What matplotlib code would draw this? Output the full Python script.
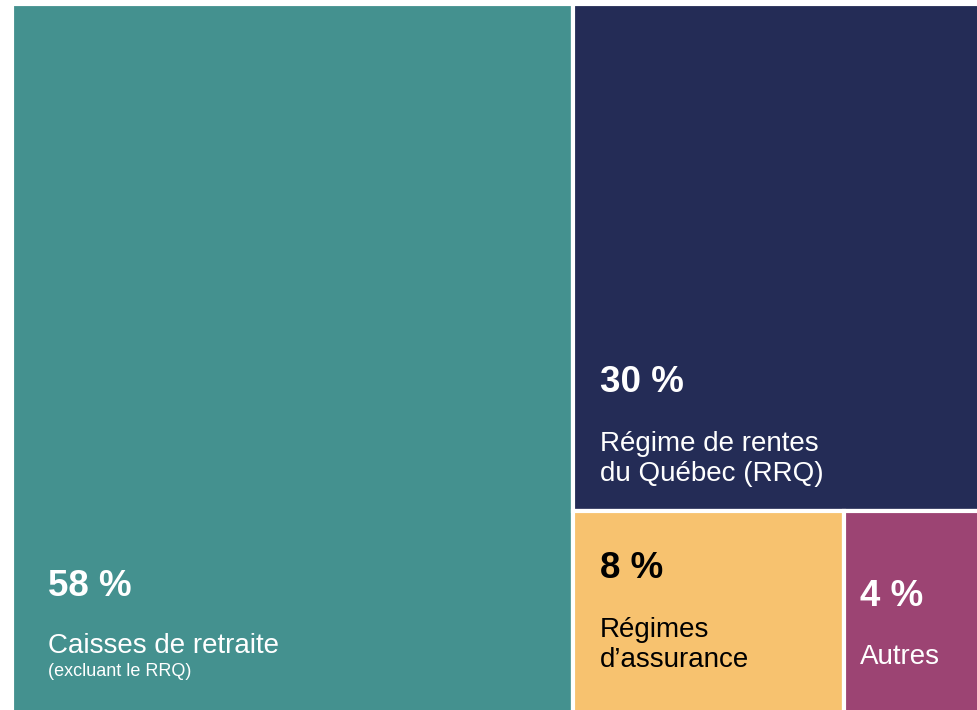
import matplotlib.pyplot as plt
from matplotlib.patches import Rectangle

plt.rcParams['font.family'] = ['Liberation Sans', 'DejaVu Sans']

# données
parts = [58, 30, 8, 4]
pct_labels = ['58 %', '30 %', '8 %', '4 %']
names = ['Caisses de retraite', 'Régime de rentes\ndu Québec (RRQ)', 'Régimes\nd\u2019assurance', 'Autres']
notes = ['(excluant le RRQ)', '', '', '']
colors = ['#44918f', '#242c56', '#f7c26f', '#9c4473']
pct_colors = ['white', 'white', 'black', 'white']
name_colors = ['white', 'white', 'black', 'white']

fig = plt.figure(figsize=(9.78, 7.1), dpi=100)
ax = fig.add_axes([0, 0, 1, 1])
ax.set_xlim(0, 978)
ax.set_ylim(710, 0)
ax.axis('off')

# zone du treemap (pixels)
x0, y0, x1, y1 = 12, 4, 980, 714
W, H = x1 - x0, y1 - y0
total = sum(parts)

# découpage : gros bloc à gauche, colonne à droite (haut + 2 petits en bas)
w0 = W * parts[0] / total
rest = total - parts[0]
h1 = H * parts[1] / rest
small = parts[2] + parts[3]
w2 = (W - w0) * parts[2] / small

rects = [
    (x0, y0, w0, H),
    (x0 + w0, y0, W - w0, h1),
    (x0 + w0, y0 + h1, w2, H - h1),
    (x0 + w0 + w2, y0 + h1, W - w0 - w2, H - h1),
]

for (rx, ry, rw, rh), c in zip(rects, colors):
    ax.add_patch(Rectangle((rx, ry), rw, rh, facecolor=c, edgecolor='white', linewidth=3))

# textes : (x, y du pourcentage, y du nom)
text_pos = [(48, 586, 646), (600, 382, 459), (600, 568, 645), (860, 596, 657)]
for i, (tx, ty_pct, ty_name) in enumerate(text_pos):
    ax.text(tx, ty_pct, pct_labels[i], color=pct_colors[i], fontsize=26.5, fontweight='bold',
            va='center', ha='left')
    ax.text(tx, ty_name, names[i], color=name_colors[i], fontsize=20, va='center',
            ha='left', linespacing=1.22)
    if notes[i]:
        ax.text(tx, 672, notes[i], color=name_colors[i], fontsize=13, va='center', ha='left')

fig.savefig('out.png', dpi=100)
